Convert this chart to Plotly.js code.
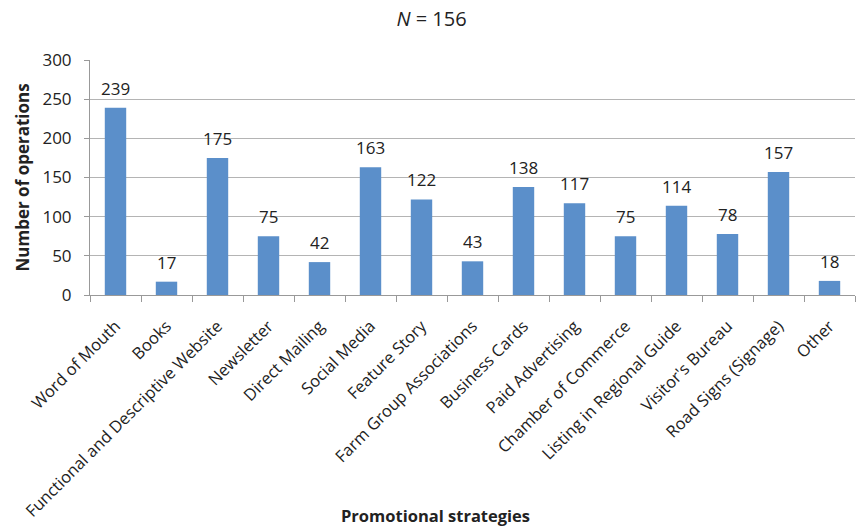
<!DOCTYPE html>
<html>
<head>
<meta charset="utf-8">
<script src="https://cdn.plot.ly/plotly-3.0.1.min.js"></script>
<style>html,body{margin:0;padding:0;background:#fff;}#chart{width:858px;height:529px;}</style>
</head>
<body>
<div id="chart"></div>
<script>
const categories = ["Word of Mouth","Books","Functional and Descriptive Website","Newsletter","Direct Mailing","Social Media","Feature Story","Farm Group Associations","Business Cards","Paid Advertising","Chamber of Commerce","Listing in Regional Guide","Visitor's Bureau","Road Signs (Signage)","Other"];
const values = [239,17,175,75,42,163,122,43,138,117,75,114,78,157,18];
const yTicks = [0,50,100,150,200,250,300];

const font = "Open Sans, Liberation Sans, sans-serif";
const txt = "#222";
const trace = {
  type: "bar",
  x: categories,
  y: values,
  marker: {color: "#5b8fca"},
  hoverinfo: "x+y"
};
const valueLabels = categories.map((c, i) => ({
  x: c, y: values[i], xref: "x", yref: "y",
  text: String(values[i]), showarrow: false,
  yanchor: "bottom", yshift: 6,
  font: {family: font, size: 17, color: txt}
}));
const layout = {
  width: 858, height: 529,
  margin: {l: 90, r: 3, t: 60, b: 234},
  paper_bgcolor: "#fff", plot_bgcolor: "#fff",
  bargap: 0.58,
  showlegend: false,
  title: {text: "<i>N</i> = 156", x: 0.503, xanchor: "center", y: 0.965, yanchor: "middle",
          font: {family: font, size: 20, color: txt}},
  xaxis: {
    type: "category",
    tickangle: -45,
    tickfont: {family: font, size: 16.5, color: txt},
    ticklabelstandoff: 14,
    showline: true, linecolor: "#999", linewidth: 1,
    ticks: "outside", ticklen: 6, tickcolor: "#999",
    tickson: "boundaries",
    showgrid: false
  },
  yaxis: {
    range: [0, 300],
    tickvals: yTicks,
    ticktext: yTicks.map(String),
    tickfont: {family: font, size: 17, color: txt},
    showline: true, linecolor: "#999", linewidth: 1,
    ticks: "outside", ticklen: 5, tickcolor: "#999",
    ticklabelstandoff: 9,
    showgrid: true, gridcolor: "#b4b4b4", gridwidth: 1,
    zeroline: false
  },
  annotations: valueLabels.concat([
    {text: "<b>Promotional strategies</b>", xref: "paper", yref: "paper", x: 0.451, y: 0,
     yanchor: "middle", yshift: -220, showarrow: false,
     font: {family: font, size: 16.5, color: txt}},
    {text: "<b>Number of operations</b>", xref: "paper", yref: "paper", x: 0, y: 0.5,
     xanchor: "center", xshift: -68, textangle: -90, showarrow: false,
     font: {family: font, size: 17, color: txt}}
  ])
};
Plotly.newPlot("chart", [trace], layout, {displayModeBar: false, staticPlot: true});
</script>
</body>
</html>
